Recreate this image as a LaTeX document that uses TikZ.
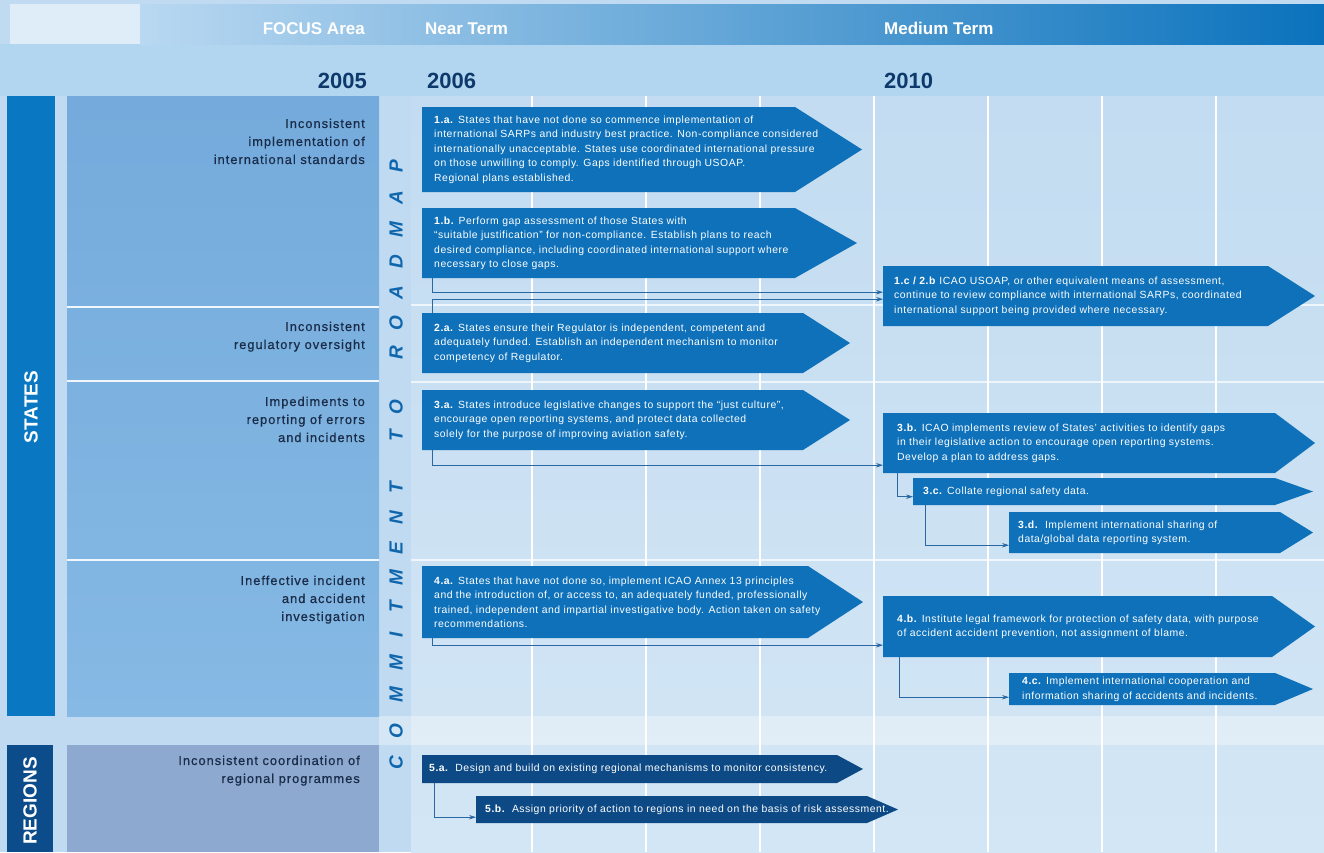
\documentclass[tikz,border=0pt]{standalone}
\usepackage{fontspec}
\setmainfont{Liberation Sans}
\usetikzlibrary{arrows.meta,calc}
\definecolor{bgmain}{HTML}{C0DBF1}
\definecolor{hdrL}{HTML}{B9D8F1}
\definecolor{hdrR}{HTML}{0A72BC}
\definecolor{yearband}{HTML}{B2D5F0}
\definecolor{gridtop}{HTML}{C3DCF1}
\definecolor{gridbot}{HTML}{D3E6F5}
\definecolor{focustop}{HTML}{74ABDC}
\definecolor{focusbot}{HTML}{86B9E4}
\definecolor{regpanel}{HTML}{8DA9D0}
\definecolor{statesbar}{HTML}{0A77C2}
\definecolor{regbar}{HTML}{0D4C8B}
\definecolor{boxblue}{HTML}{0E71BA}
\definecolor{regblue}{HTML}{0D4A85}
\definecolor{connblue}{HTML}{2A68A3}
\definecolor{focustext}{HTML}{1A2C48}
\definecolor{yeartext}{HTML}{0E3A6B}
\definecolor{cmtblue}{HTML}{0F66AD}
\newcommand\btfont{\fontsize{10.4}{14.4}\selectfont\addfontfeature{LetterSpace=5}}
\newcommand\fcfont{\fontsize{12.8}{18}\selectfont\addfontfeature{LetterSpace=8,FakeBold=0.6}}
\newcommand\mkbox[7]{%
  \fill[#7] (#2,#3) -- (#4,#3) -- (#6,{(#3+#5)/2}) -- (#4,#5) -- (#2,#5) -- cycle;
  \node[inner sep=0, minimum width={#4-#2}, minimum height={#5-#3}, anchor=north west] (#1) at (#2,#3) {};
}
\tikzset{
  btxt/.style={text=white, font=\btfont, align=left, inner sep=0, anchor=west},
  conn/.style={draw=connblue, line width=0.9pt, -{Stealth[length=7pt,width=4.5pt]}},
  focus/.style={text=focustext, font=\fcfont, align=right, inner sep=0, anchor=north east},
  hdr/.style={text=white, font=\fontsize{17}{17}\selectfont\bfseries, inner sep=0},
  year/.style={text=yeartext, font=\fontsize{22}{22}\selectfont\bfseries, inner sep=0},
  cmt/.style={text=cmtblue, font=\fontsize{19}{19}\selectfont\bfseries\itshape, inner sep=0, rotate=90},
  bar/.style={text=white, font=\fontsize{19}{19}\selectfont\bfseries, inner sep=0, rotate=90},
  gline/.style={draw=white, line width=1.6pt},
}
\begin{document}
\begin{tikzpicture}[x=1pt,y=-1pt]
\useasboundingbox (0,0) rectangle (1324,852);
% backgrounds
\fill[bgmain] (0,0) rectangle (1324,852);
\fill[yearband] (0,44) rectangle (1324,96);
\fill[white!55!hdrL] (10,4) rectangle (140,44);
\shade[left color=hdrL, right color=hdrR] (140,4) rectangle (1324,44);
\shade[top color=gridtop, bottom color=gridbot] (411,96) rectangle (1324,852);
\fill[white, opacity=0.35] (379,716) rectangle (1324,745);
% grid lines
\foreach \gx in {532,646,760,874,988,1102,1216}
  \draw[gline] (\gx,96) -- (\gx,852);
\foreach \gy in {305,382,560}
  \draw[draw=white, line width=1.2pt, opacity=0.7] (411,\gy) -- (1324,\gy);
% focus panels
\shade[top color=focustop, bottom color=focusbot] (67,96) rectangle (379,716);
\foreach \gy in {307,381,560}
  \draw[draw=white, line width=1.3pt, opacity=0.9] (67,\gy) -- (379,\gy);
\fill[regpanel] (67,745) rectangle (379,852);
\fill[statesbar] (7,96) rectangle (55,716);
\fill[regbar] (7,745) rectangle (53,852);
\node[bar] (states) at (31,407) {STATES};
\node[bar] (regions) at (30,801) {REGIONS};
% headers
\node[hdr, anchor=base east] (hfocus) at (365,34) {FOCUS Area};
\node[hdr, anchor=base west] (hnear) at (425,34) {Near Term};
\node[hdr, anchor=base west] (hmed) at (884,34) {Medium Term};
\node[year, anchor=base east] (y2005) at (367,88) {2005};
\node[year, anchor=base west] (y2006) at (427,88) {2006};
\node[year, anchor=base west] (y2010) at (884,88) {2010};
% focus texts
\node[focus] (f1) at (365,118.5) {Inconsistent\\implementation of\\international standards};
\node[focus] (f2) at (365,321.5) {Inconsistent\\regulatory oversight};
\node[focus] (f3) at (365,396.5) {Impediments to\\reporting of errors\\and incidents};
\node[focus] (f4) at (365,575.5) {Ineffective incident\\and accident\\investigation};
\node[focus] (f5) at (360,755.5) {Inconsistent coordination of\\regional programmes};
% commitment to roadmap
\foreach \ch/\yy [count=\i] in {C/763,O/731,M/695,M/663,I/635,T/607,M/578,E/548,N/518,T/488,T/436,O/407,R/353,O/323,A/293,D/262,M/230,A/198,P/166}
  \node[cmt] (cm\i) at (396,\yy) {\ch};
% boxes
\mkbox{b1a}{422}{107}{795}{192}{862}{boxblue}
\mkbox{b1b}{422}{208}{795}{278}{857}{boxblue}
\mkbox{b1c}{883}{266}{1268}{326}{1315}{boxblue}
\mkbox{b2a}{422}{313}{803}{373}{850}{boxblue}
\mkbox{b3a}{422}{390}{803}{450}{850}{boxblue}
\mkbox{b3b}{883}{413}{1275}{473}{1315}{boxblue}
\mkbox{b3c}{913}{478}{1275}{505}{1313}{boxblue}
\mkbox{b3d}{1009}{512}{1280}{553}{1313}{boxblue}
\mkbox{b4a}{422}{566}{808}{638}{863}{boxblue}
\mkbox{b4b}{883}{596}{1272}{657}{1315}{boxblue}
\mkbox{b4c}{1009}{673}{1275}{705}{1313}{boxblue}
\mkbox{b5a}{422}{755}{837}{783}{863}{regblue}
\mkbox{b5b}{476}{796}{867}{823}{898}{regblue}
% box texts
\node[btxt] (t1a) at ([xshift=12pt]b1a.west) {\textbf{1.a.} States that have not done so commence implementation of\\international SARPs and industry best practice. Non-compliance considered\\internationally unacceptable. States use coordinated international pressure\\on those unwilling to comply. Gaps identified through USOAP.\\Regional plans established.};
\node[btxt] (t1b) at ([xshift=12pt]b1b.west) {\textbf{1.b.} Perform gap assessment of those States with\\“suitable justification” for non-compliance. Establish plans to reach\\desired compliance, including coordinated international support where\\necessary to close gaps.};
\node[btxt] (t1c) at ([xshift=11pt]b1c.west) {\textbf{1.c / 2.b} ICAO USOAP, or other equivalent means of assessment,\\continue to review compliance with international SARPs, coordinated\\international support being provided where necessary.};
\node[btxt] (t2a) at ([xshift=12pt]b2a.west) {\textbf{2.a.} States ensure their Regulator is independent, competent and\\adequately funded. Establish an independent mechanism to monitor\\competency of Regulator.};
\node[btxt] (t3a) at ([xshift=12pt]b3a.west) {\textbf{3.a.} States introduce legislative changes to support the “just culture”,\\encourage open reporting systems, and protect data collected\\solely for the purpose of improving aviation safety.};
\node[btxt] (t3b) at ([xshift=14pt]b3b.west) {\textbf{3.b.} ICAO implements review of States' activities to identify gaps\\in their legislative action to encourage open reporting systems.\\Develop a plan to address gaps.};
\node[btxt] (t3c) at ([xshift=10pt]b3c.west) {\textbf{3.c.} Collate regional safety data.};
\node[btxt] (t3d) at ([xshift=9pt]b3d.west) {\textbf{3.d.}\ \ Implement international sharing of\\data/global data reporting system.};
\node[btxt] (t4a) at ([xshift=12pt]b4a.west) {\textbf{4.a.} States that have not done so, implement ICAO Annex 13 principles\\and the introduction of, or access to, an adequately funded, professionally\\trained, independent and impartial investigative body. Action taken on safety\\recommendations.};
\node[btxt] (t4b) at ([xshift=14pt]b4b.west) {\textbf{4.b.} Institute legal framework for protection of safety data, with purpose\\of accident accident prevention, not assignment of blame.};
\node[btxt] (t4c) at ([xshift=13pt]b4c.west) {\textbf{4.c.} Implement international cooperation and\\information sharing of accidents and incidents.};
\node[btxt] (t5a) at ([xshift=7pt]b5a.west) {\textbf{5.a.}\ \ Design and build on existing regional mechanisms to monitor consistency.};
\node[btxt] (t5b) at ([xshift=9pt]b5b.west) {\textbf{5.b.}\ \ Assign priority of action to regions in need on the basis of risk assessment.};
% connectors
\draw[conn] ([xshift=10pt]b1b.south west) |- ([yshift=4pt]b1c.west);
\draw[conn] ([xshift=10pt]b2a.north west) |- ([yshift=-3pt]b1c.west);
\draw[conn] ([xshift=10pt]b3a.south west) |- ([yshift=-22pt]b3b.west);
\draw[conn] ([xshift=14pt]b3b.south west) |- ([yshift=-5pt]b3c.west);
\draw[conn] ([xshift=12pt]b3c.south west) |- ([yshift=-12.5pt]b3d.west);
\draw[conn] ([xshift=10pt]b4a.south west) |- ([yshift=-18.5pt]b4b.west);
\draw[conn] ([xshift=16pt]b4b.south west) |- ([yshift=-8pt]b4c.west);
\draw[conn] ([xshift=12pt]b5a.south west) |- ([yshift=-7.5pt]b5b.west);
\end{tikzpicture}
\end{document}
